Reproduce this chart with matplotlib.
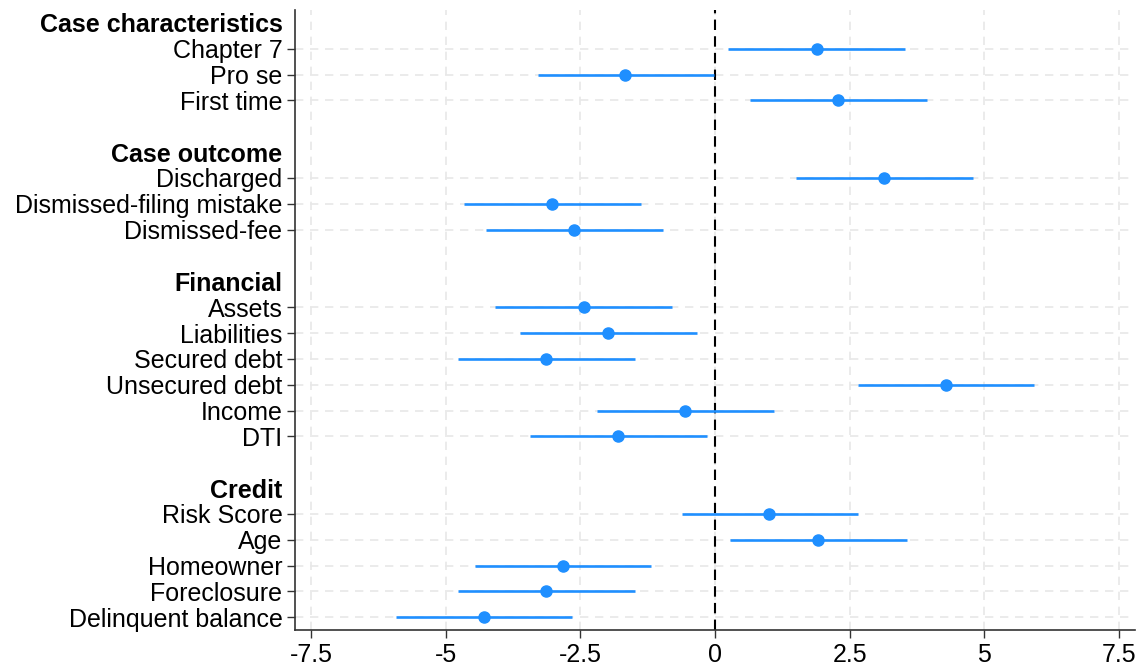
import numpy as np
import matplotlib.pyplot as plt

plt.rcParams["font.family"] = ["Liberation Sans", "DejaVu Sans"]

# -----------------------------------------------------
# Estimates and 95% intervals, by variable group
# -----------------------------------------------------

groups = ["Case characteristics", "Case outcome", "Financial", "Credit"]

labels = [
    ["Chapter 7", "Pro se", "First time"],
    ["Discharged", "Dismissed-filing mistake", "Dismissed-fee"],
    ["Assets", "Liabilities", "Secured debt", "Unsecured debt", "Income", "DTI"],
    ["Risk Score", "Age", "Homeowner", "Foreclosure", "Delinquent balance"],
]

coef = [
    [1.89, -1.67, 2.29],
    [3.14, -3.02, -2.62],
    [-2.43, -1.99, -3.14, 4.29, -0.56, -1.80],
    [1.00, 1.91, -2.82, -3.14, -4.29],
]

ci_lo = [
    [0.25, -3.28, 0.65],
    [1.50, -4.66, -4.25],
    [-4.08, -3.62, -4.77, 2.65, -2.19, -3.43],
    [-0.61, 0.28, -4.45, -4.77, -5.92],
]

ci_hi = [
    [3.53, -0.02, 3.93],
    [4.79, -1.37, -0.96],
    [-0.80, -0.33, -1.48, 5.92, 1.09, -0.15],
    [2.65, 3.56, -1.19, -1.48, -2.65],
]

xticks = [-7.5, -5, -2.5, 0, 2.5, 5, 7.5]
xticklabels = ["-7.5", "-5", "-2.5", "0", "2.5", "5", "7.5"]

# -----------------------------------------------------
# Row layout: header row, then one row per variable, then a gap
# -----------------------------------------------------

ypos, ylab, is_header = [], [], []
pts_y, pts_x, pts_lo, pts_hi = [], [], [], []

row = 0
for g, labs, c, lo, hi in zip(groups, labels, coef, ci_lo, ci_hi):
    ypos.append(row)
    ylab.append(g)
    is_header.append(True)
    row += 1
    for lab, ci, l, h in zip(labs, c, lo, hi):
        ypos.append(row)
        ylab.append(lab)
        is_header.append(False)
        pts_y.append(row)
        pts_x.append(ci)
        pts_lo.append(l)
        pts_hi.append(h)
        row += 1
    row += 1

last_row = row - 2

# -----------------------------------------------------
# Plot
# -----------------------------------------------------

blue = "#1f8fff"
grid_col = "#e8e8e8"

fig = plt.figure(figsize=(11.43, 6.69), dpi=100)
ax = fig.add_axes([0.258, 0.058, 0.735, 0.927])

ax.hlines(pts_y, pts_lo, pts_hi, color=blue, linewidth=1.9, zorder=3)
ax.plot(pts_x, pts_y, "o", color=blue, markersize=8, zorder=4)

ax.axvline(0, color="black", linestyle=(0, (5, 3)), linewidth=1.5, zorder=2)

for x in xticks:
    ax.axvline(x, color=grid_col, linestyle=(0, (5, 4)), linewidth=1.2, zorder=1)

for y, h in zip(ypos, is_header):
    if not h:
        ax.axhline(y, color=grid_col, linestyle=(0, (5, 4)), linewidth=1.2, zorder=1)

ax.set_xlim(-7.8, 7.8)
ax.set_ylim(last_row + 0.5, -0.5)

ax.set_xticks(xticks)
ax.set_xticklabels(xticklabels)
ax.set_yticks(ypos)
ax.set_yticklabels(ylab)

ax.tick_params(axis="both", labelsize=18, length=6, width=1, color="#333333")
ax.tick_params(axis="x", pad=3)
ax.tick_params(axis="y", pad=3)

for tick, lab, h in zip(ax.yaxis.get_major_ticks(), ax.get_yticklabels(), is_header):
    if h:
        tick.tick1line.set_visible(False)
        lab.set_fontweight("bold")

for side in ["top", "right"]:
    ax.spines[side].set_visible(False)
for side in ["left", "bottom"]:
    ax.spines[side].set_color("#333333")
    ax.spines[side].set_linewidth(1.2)

plt.savefig("out.png", dpi=100)
